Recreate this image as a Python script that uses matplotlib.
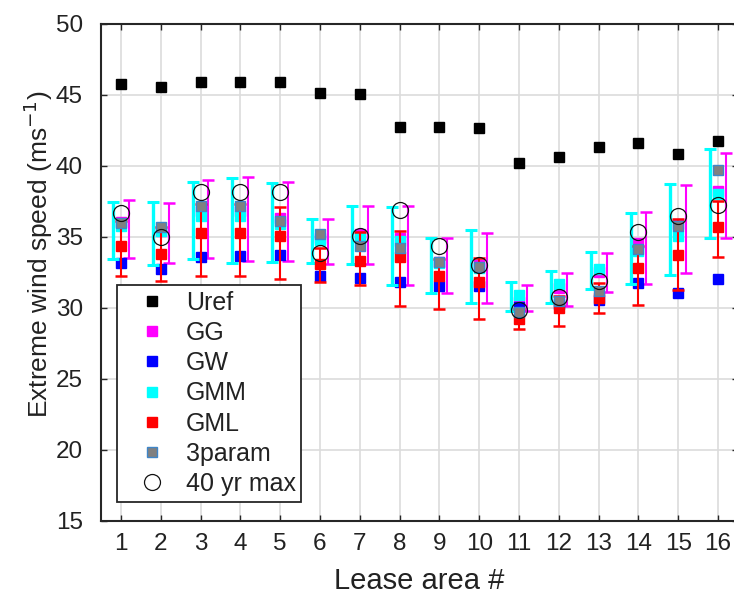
import matplotlib
matplotlib.use('Agg')
import matplotlib.pyplot as plt
from matplotlib.lines import Line2D
import numpy as np

# ---- data ----
areas = list(range(1, 17))
uref = [45.74, 45.52, 45.88, 45.88, 45.88, 45.12, 45.06, 42.73, 42.73, 42.66,
        40.15, 40.60, 41.27, 41.56, 40.80, 41.72]
gg = [36.00, 35.40, 36.80, 36.80, 36.30, 34.90, 35.20, 34.90, 33.20, 33.00,
      30.40, 31.40, 32.50, 34.55, 35.85, 38.19]
gg_lo = [33.50, 33.10, 33.52, 33.26, 33.26, 33.03, 33.03, 31.60, 30.99, 30.33,
         29.74, 30.09, 31.08, 31.69, 32.44, 34.86]
gg_hi = [37.56, 37.37, 38.97, 39.20, 38.83, 36.20, 37.18, 37.14, 34.91, 35.23,
         31.60, 32.44, 33.85, 36.74, 38.61, 40.89]
gw = [33.15, 32.72, 33.57, 33.60, 33.71, 32.20, 32.07, 31.78, 31.50, 31.50,
      30.05, 30.25, 30.55, 31.74, 31.03, 32.02]
gmm = [35.77, 35.38, 36.43, 36.43, 35.90, 34.75, 34.90, 34.70, 33.10, 32.80,
       30.85, 31.67, 32.68, 34.00, 35.02, 38.00]
gmm_lo = [33.43, 32.96, 33.43, 33.10, 33.19, 33.10, 33.03, 31.55, 30.99, 30.33,
          29.74, 30.33, 31.31, 31.69, 32.32, 34.91]
gmm_hi = [37.46, 37.46, 38.87, 39.13, 38.78, 36.24, 37.18, 37.07, 34.88, 35.47,
          31.78, 32.60, 33.92, 36.62, 38.73, 41.17]
gml = [34.32, 33.80, 35.26, 35.26, 35.02, 33.08, 33.26, 33.54, 32.21, 31.78,
       29.20, 29.98, 30.68, 32.79, 33.73, 35.66]
gml_lo = [32.21, 31.90, 32.21, 32.21, 32.02, 31.78, 31.55, 30.14, 29.86, 29.20,
          28.50, 28.69, 29.58, 30.16, 31.20, 33.57]
gml_hi = [36.10, 35.70, 37.30, 37.30, 37.09, 34.20, 35.30, 35.38, 33.40, 33.47,
          29.90, 30.80, 31.70, 34.30, 36.20, 37.49]
three_param = [35.92, 35.68, 37.18, 37.14, 36.08, 35.19, 34.32, 34.20, 33.19, 32.86,
               29.67, 30.49, 31.15, 34.15, 35.77, 39.65]
max40 = [36.62, 34.98, 38.15, 38.15, 38.15, 33.85, 35.07, 36.85, 34.32, 32.96,
         29.81, 30.75, 31.85, 35.31, 36.43, 37.20]
legend_labels = ['Uref', 'GG', 'GW', 'GMM', 'GML', '3param', '40 yr max']

plt.rcParams['font.family'] = ['Liberation Sans', 'DejaVu Sans']

C_UREF, C_GG, C_GW, C_GMM, C_GML = '#000000', '#ff00ff', '#0000ff', '#00ffff', '#ff0000'
C_3P, C_3P_EDGE = '#808080', '#3f86c8'
MS = 7.2
TXT = '#222222'

fig = plt.figure(figsize=(7.34, 5.94), dpi=100)
ax = fig.add_axes([101 / 734, 73.5 / 594, 637 / 734, 497 / 594])

x = np.array(areas, dtype=float)


def err(v, lo, hi):
    v, lo, hi = map(np.asarray, (v, lo, hi))
    return [v - lo, hi - v]


ax.plot(x, uref, 's', color=C_UREF, ms=MS, zorder=3)

ax.errorbar(x + 0.2, gg, yerr=err(gg, gg_lo, gg_hi), fmt='none', ecolor=C_GG,
            elinewidth=1.5, capsize=4, capthick=1.8, zorder=4)
ax.plot(x, gg, 's', color=C_GG, ms=MS, zorder=4.1)

ax.plot(x, gw, 's', color=C_GW, ms=MS, zorder=5)

ax.errorbar(x - 0.2, gmm, yerr=err(gmm, gmm_lo, gmm_hi), fmt='none', ecolor=C_GMM,
            elinewidth=2.4, capsize=4.2, capthick=2.2, zorder=6)
ax.plot(x, gmm, 's', color=C_GMM, ms=MS, zorder=6.1)

ax.errorbar(x, gml, yerr=err(gml, gml_lo, gml_hi), fmt='none', ecolor=C_GML,
            elinewidth=1.5, capsize=4, capthick=1.8, zorder=7)
ax.plot(x, gml, 's', color=C_GML, ms=MS, zorder=7.1)

ax.plot(x, three_param, 's', mfc=C_3P, mec=C_3P_EDGE, mew=1.0, ms=MS, zorder=8)

ax.plot(x, max40, 'o', mfc='none', mec='#111111', mew=0.9, ms=11.5, zorder=9)

ax.set_xlim(0.5, 16.5)
ax.set_ylim(15, 50)
ax.set_xticks(areas)
ax.set_yticks(list(range(15, 51, 5)))
ax.grid(True, color='#dcdcdc', linewidth=1.2, zorder=0)
ax.set_axisbelow(True)
ax.tick_params(direction='in', length=4.5, width=1.0, color='#262626',
               labelsize=17.5, labelcolor=TXT, top=True, right=True)
ax.tick_params(axis='x', pad=9)
ax.tick_params(axis='y', pad=13)
for s in ax.spines.values():
    s.set_color('#262626')
    s.set_linewidth(1.5)

ax.set_xlabel('Lease area #', fontsize=21, color=TXT)
ax.xaxis.set_label_coords(0.5, -0.093)
ax.xaxis.label.set_va('top')
ax.set_ylabel('Extreme wind speed (ms$^{-1}$)', fontsize=19, color=TXT)
ax.yaxis.set_label_coords(-0.072, 0.536)

handles = [
    Line2D([], [], ls='none', marker='s', color=C_UREF, ms=MS),
    Line2D([], [], ls='none', marker='s', color=C_GG, ms=MS),
    Line2D([], [], ls='none', marker='s', color=C_GW, ms=MS),
    Line2D([], [], ls='none', marker='s', color=C_GMM, ms=MS),
    Line2D([], [], ls='none', marker='s', color=C_GML, ms=MS),
    Line2D([], [], ls='none', marker='s', mfc=C_3P, mec=C_3P_EDGE, mew=1.0, ms=MS),
    Line2D([], [], ls='none', marker='o', mfc='none', mec='#111111', mew=0.9, ms=11.5),
]
leg = ax.legend(handles, legend_labels, loc='lower left',
                bbox_to_anchor=(0.025, 0.038), borderaxespad=0, fontsize=18,
                frameon=True, fancybox=False, edgecolor='#262626', framealpha=1,
                borderpad=0.22, handlelength=2.36, handletextpad=0.18,
                labelspacing=0.25)
for t in leg.get_texts():
    t.set_color(TXT)
leg.get_frame().set_linewidth(1.3)
leg.set_zorder(20)

fig.savefig('out.png', dpi=100)
